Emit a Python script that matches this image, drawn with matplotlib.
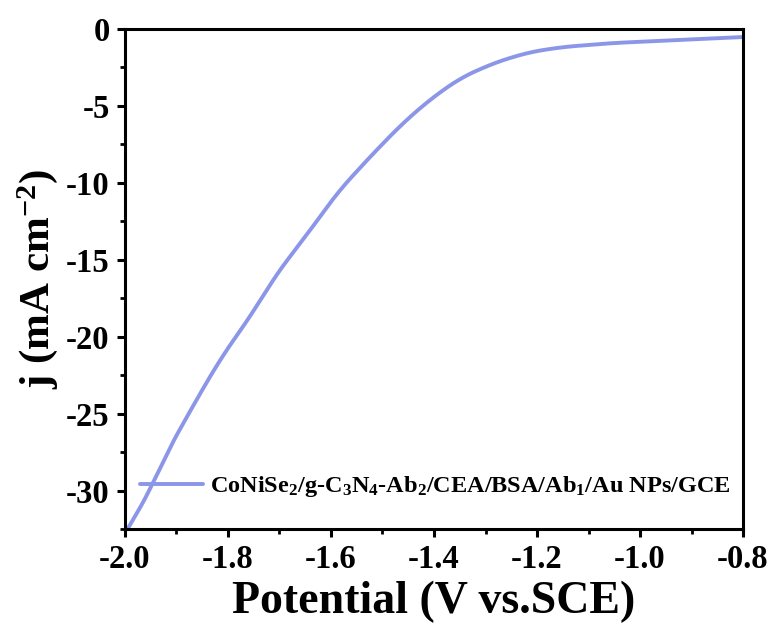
import matplotlib
matplotlib.use("Agg")
import matplotlib.pyplot as plt
import numpy as np
from matplotlib.ticker import MultipleLocator

plt.rcParams['font.family'] = ['Liberation Serif']
plt.rcParams['font.weight'] = 'bold'
plt.rcParams['mathtext.fontset'] = 'custom'
plt.rcParams['mathtext.rm'] = 'Liberation Serif:bold'
plt.rcParams['mathtext.bf'] = 'Liberation Serif:bold'
plt.rcParams['mathtext.default'] = 'bf'

# LSV curve: potential (V vs. SCE) and current density (mA cm^-2)
potential = [-1.995, -1.946, -1.926, -1.880, -1.816, -1.751, -1.713, -1.685,
             -1.654, -1.588, -1.524, -1.460, -1.408, -1.388, -1.344, -1.278, -1.214,
             -1.150, -1.052, -0.922, -0.800]
current = [-32.5, -29.7, -28.0, -25.2, -21.5, -18.4, -16.3, -15.0,
           -13.7, -10.65, -8.3, -6.1, -4.6, -4.1, -3.1, -2.14, -1.5,
           -1.17, -0.91, -0.71, -0.52]
series_label = 'CoNiSe$_2$/g-C$_3$N$_4$-Ab$_2$/CEA/BSA/Ab$_1$/Au NPs/GCE'

x_ticks = [-2.0, -1.8, -1.6, -1.4, -1.2, -1.0, -0.8]
y_ticks = [0, -5, -10, -15, -20, -25, -30]

fig = plt.figure(figsize=(7.73, 6.28), dpi=100)
ax = fig.add_axes([0.1617, 0.1576, 0.7995, 0.7962])

# smooth the sampled points for drawing (odd reflection keeps the end trends)
xs = np.linspace(potential[0], potential[-1], 600)
ys = np.interp(xs, potential, current)
k = 14
padded = np.pad(ys, k, mode='reflect', reflect_type='odd')
ys_s = np.convolve(padded, np.ones(2 * k + 1) / (2 * k + 1), mode='same')[k:-k]
ax.plot(xs, ys_s, color='#8c96e8', lw=2.8, label=series_label, solid_capstyle='round')

ax.set_xlim(-2.0, -0.8)
ax.set_ylim(-32.5, 0)
ax.set_xticks(x_ticks)
ax.set_xticklabels([f'{v:.1f}' for v in x_ticks])
ax.set_yticks(y_ticks)
ax.set_yticklabels([str(v) for v in y_ticks])
ax.xaxis.set_minor_locator(MultipleLocator(0.1))
ax.yaxis.set_minor_locator(MultipleLocator(2.5))

for s in ax.spines.values():
    s.set_linewidth(2.2)
ax.tick_params(which='major', direction='out', length=6, width=2.2, labelsize=23.5, pad=5)
ax.tick_params(which='minor', direction='out', length=3.5, width=2.0)
ax.tick_params(top=False, right=False)

ax.set_xlabel('Potential (V vs.SCE)', fontsize=33, fontweight='bold', labelpad=4)
ax.set_ylabel('j (mA cm$^{-2}$)', fontsize=31, fontweight='bold', labelpad=4)

leg = ax.legend(loc='lower right', frameon=False, fontsize=17.5, handlelength=2.6,
                handletextpad=0.3, borderaxespad=0.1, bbox_to_anchor=(1.0, 0.035))

fig.savefig('out.png', dpi=100)
